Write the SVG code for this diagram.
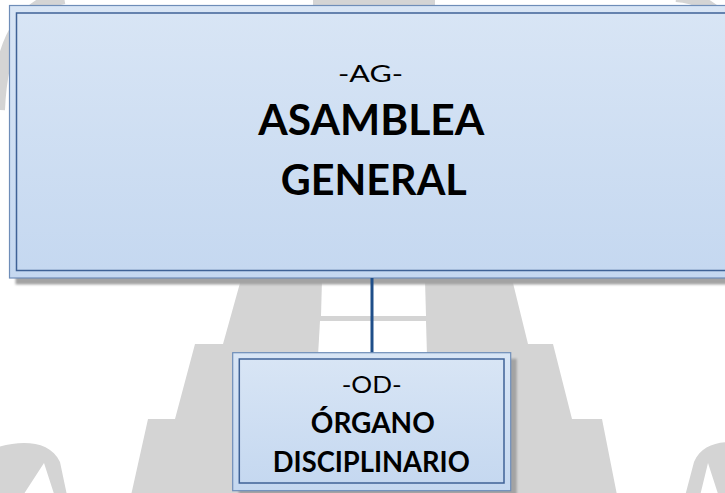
<svg xmlns="http://www.w3.org/2000/svg" width="725" height="493" viewBox="0 0 725 493">
  <defs>
    <linearGradient id="boxFill" x1="0" y1="0" x2="0" y2="1">
      <stop offset="0" stop-color="#D8E5F5"/>
      <stop offset="1" stop-color="#C5D8F0"/>
    </linearGradient>
    <filter id="soft" x="-5%" y="-5%" width="110%" height="110%">
      <feGaussianBlur stdDeviation="0.8"/>
    </filter>
  </defs>
  <style>
    .wm { fill: #D4D4D4; }
    .wmline { fill: none; stroke: #D4D4D4; }
    .shadow { fill: #A3A3A3; filter: url(#soft); }
    .outer { fill: url(#boxFill); stroke: #6E8DB8; stroke-width: 1.2; }
    .inner { fill: url(#boxFill); stroke: #3F6296; stroke-width: 1.5; }
    .conn { stroke: #1F4E89; stroke-width: 3; fill: none; }
    .t { font-family: Lato, "Open Sans", "Liberation Sans", sans-serif; fill: #000000; text-anchor: middle; }
    .reg { font-weight: 400; }
    .bold { font-weight: 700; }
  </style>
  <rect x="0" y="0" width="725" height="493" fill="#FFFFFF"/>
  <g id="watermark">
    <polygon class="wm" points="313,-5 435,-5 435,10 500,230 513,283 528,344 553,344 572,419 602,419 618,500 130,500 148,419 175,419 195,344 223,344 240,283 255,230 313,10"/>
    <polygon fill="#FFFFFF" points="322,280 425,280 426,316 321,316"/>
    <polygon fill="#FFFFFF" points="320,321 426,321 427,356 318,356"/>
    <path class="wmline" stroke-width="14" d="M 64 -3 Q 2 8 -2 110"/>
    <path class="wmline" stroke-width="12" d="M 676 -4 Q 718 -2 745 50"/>
    <path class="wm" d="M -5 448 C 20 440 50 440 60 462 L 68 500 L 56 500 L 44 463 L 20 500 L -5 500 Z"/>
    <path class="wm" d="M 684 500 L 694 462 C 700 447 715 442 730 442 L 730 500 L 720 500 L 708 463 L 699 500 Z"/>
  </g>
  <g id="node-ag">
    <rect class="shadow" x="15.5" y="11.5" width="740" height="273"/>
    <rect class="outer" x="9.5" y="5.5" width="740" height="272.5"/>
    <rect class="inner" x="16.5" y="13" width="730" height="257.5"/>
    <text class="t reg" x="370.5" y="81.7" font-size="23.5" textLength="65" lengthAdjust="spacingAndGlyphs">-AG-</text>
    <text class="t bold" x="371.3" y="135" font-size="42" textLength="226" lengthAdjust="spacingAndGlyphs">ASAMBLEA</text>
    <text class="t bold" x="373.8" y="195" font-size="42" textLength="186" lengthAdjust="spacingAndGlyphs">GENERAL</text>
  </g>
  <g id="connectors">
    <line class="conn" x1="372" y1="278" x2="372" y2="353"/>
  </g>
  <g id="node-od">
    <rect class="shadow" x="238.7" y="358.7" width="278" height="138"/>
    <rect class="outer" x="232.7" y="352.7" width="278" height="138"/>
    <rect class="inner" x="239.3" y="359" width="264.7" height="124"/>
    <text class="t reg" x="371.7" y="393.3" font-size="22.5" textLength="60" lengthAdjust="spacingAndGlyphs">-OD-</text>
    <text class="t bold" x="372.8" y="433.3" font-size="28" textLength="124" lengthAdjust="spacingAndGlyphs">ÓRGANO</text>
    <text class="t bold" x="371.3" y="471.7" font-size="28.5" textLength="197" lengthAdjust="spacingAndGlyphs">DISCIPLINARIO</text>
  </g>
</svg>
